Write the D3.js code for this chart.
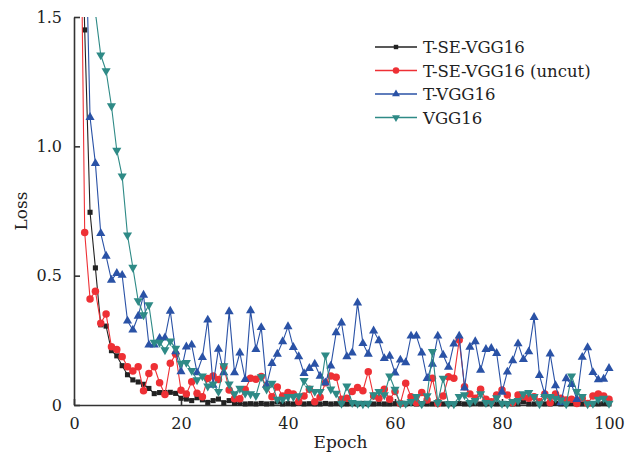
<!DOCTYPE html>
<html>
<head>
<meta charset="utf-8">
<script src="https://cdn.jsdelivr.net/npm/d3@7"></script>
<style>
  body { margin: 0; background: #fff; }
  svg text { font-family: "DejaVu Serif", serif; fill: #222; }
</style>
</head>
<body>
<div id="chart"></div>
<script>
// Data, one value per epoch (1..100)
var epochs = d3.range(1, 101);

var tseVgg = [2.3, 1.45, 0.745, 0.53, 0.31, 0.305, 0.21, 0.19, 0.152, 0.117,
  0.097, 0.089, 0.08, 0.064, 0.044, 0.048, 0.048, 0.049, 0.045, 0.026,
  0.023, 0.017, 0.028, 0.02, 0.01, 0.017, 0.023, 0.009, 0.017, 0.006,
  0.006, 0.004, 0.005, 0.004, 0.006, 0.004, 0.005, 0.012, 0.004, 0.005,
  0.004, 0.006, 0.004, 0.005, 0.004, 0.004, 0.006, 0.004, 0.005, 0.004,
  0.004, 0.005, 0.004, 0.006, 0.004, 0.004, 0.005, 0.004, 0.004, 0.005,
  0.004, 0.004, 0.006, 0.004, 0.005, 0.004, 0.004, 0.012, 0.004, 0.005,
  0.004, 0.006, 0.004, 0.004, 0.005, 0.004, 0.004, 0.005, 0.004, 0.004,
  0.005, 0.004, 0.004, 0.012, 0.004, 0.004, 0.005, 0.004, 0.004, 0.006,
  0.004, 0.004, 0.005, 0.004, 0.004, 0.006, 0.004, 0.004, 0.005, 0.004];

var tseVggUncut = [2.45, 0.667, 0.41, 0.44, 0.316, 0.352, 0.225, 0.215, 0.187, 0.148,
  0.131, 0.148, 0.055, 0.122, 0.148, 0.086, 0.041, 0.161, 0.197, 0.057,
  0.043, 0.09, 0.045, 0.032, 0.102, 0.112, 0.099, 0.148, 0.058, 0.024,
  0.024, 0.06, 0.103, 0.1, 0.11, 0.071, 0.032, 0.07, 0.035, 0.048,
  0.043, 0.013, 0.035, 0.061, 0.013, 0.03, 0.086, 0.112, 0.107, 0.022,
  0.026, 0.052, 0.068, 0.055, 0.129, 0.035, 0.026, 0.061, 0.022, 0.052,
  0.006, 0.084, 0.032, 0.009, 0.048, 0.019, 0.103, 0.006, 0.035, 0.109,
  0.103, 0.251, 0.071, 0.043, 0.026, 0.061, 0.022, 0.013, 0.039, 0.058,
  0.039, 0.009, 0.039, 0.032, 0.026, 0.032, 0.013, 0.043, 0.009, 0.043,
  0.026, 0.019, 0.022, 0.006, 0.026, 0.006, 0.035, 0.043, 0.035, 0.022];

var tVgg = [2.5, 2.0, 1.112, 0.934, 0.664, 0.576, 0.483, 0.509, 0.502, 0.325,
  0.29, 0.344, 0.425, 0.232, 0.232, 0.258, 0.26, 0.363, 0.206, 0.129,
  0.225, 0.232, 0.125, 0.184, 0.329, 0.077, 0.216, 0.125, 0.361, 0.125,
  0.202, 0.099, 0.365, 0.215, 0.3, 0.077, 0.161, 0.197, 0.245, 0.303,
  0.223, 0.187, 0.122, 0.142, 0.158, 0.112, 0.086, 0.151, 0.28, 0.318,
  0.187, 0.202, 0.395, 0.238, 0.197, 0.287, 0.249, 0.18, 0.189, 0.124,
  0.174, 0.164, 0.267, 0.267, 0.202, 0.103, 0.158, 0.267, 0.193, 0.146,
  0.236, 0.267, 0.066, 0.224, 0.245, 0.135, 0.215, 0.219, 0.2, 0.05,
  0.128, 0.172, 0.237, 0.176, 0.206, 0.339, 0.115, 0.041, 0.198, 0.075,
  0.009, 0.102, 0.08, 0.022, 0.185, 0.222, 0.126, 0.098, 0.1, 0.142];

var vgg = [2.4, 2.1, 1.8, 1.518, 1.353, 1.292, 1.156, 0.984, 0.885, 0.657,
  0.532, 0.403, 0.348, 0.387, 0.242, 0.242, 0.213, 0.247, 0.219, 0.161,
  0.164, 0.133, 0.097, 0.112, 0.073, 0.081, 0.052, 0.151, 0.081, 0.043,
  0.064, 0.045, 0.043, 0.036, 0.109, 0.061, 0.084, 0.022, 0.022, 0.032,
  0.032, 0.035, 0.094, 0.064, 0.052, 0.052, 0.193, 0.061, 0.045, 0.006,
  0.073, 0.009, 0.006, 0.004, 0.006, 0.039, 0.052, 0.039, 0.112, 0.06,
  0.006, 0.006, 0.013, 0.032, 0.004, 0.035, 0.206, 0.009, 0.103, 0.004,
  0.004, 0.032, 0.039, 0.009, 0.017, 0.043, 0.009, 0.006, 0.028, 0.006,
  0.004, 0.013, 0.017, 0.043, 0.048, 0.032, 0.004, 0.032, 0.032, 0.026,
  0.019, 0.004, 0.112, 0.052, 0.032, 0.004, 0.006, 0.022, 0.026, 0.006];

var seriesNames = ["T-SE-VGG16", "T-SE-VGG16 (uncut)", "T-VGG16", "VGG16"];
var xTicks = [0, 20, 40, 60, 80, 100];
var yTicks = [0, 0.5, 1.0, 1.5];

var series = [
  { name: seriesNames[0], values: tseVgg,      color: "#222222", symbol: d3.symbolSquare,   size: 26, rot: 0 },
  { name: seriesNames[1], values: tseVggUncut, color: "#ee3035", symbol: d3.symbolCircle,   size: 44, rot: 0 },
  { name: seriesNames[2], values: tVgg,        color: "#2a52a6", symbol: d3.symbolTriangle, size: 36, rot: 0 },
  { name: seriesNames[3], values: vgg,         color: "#2e8a86", symbol: d3.symbolTriangle, size: 36, rot: 180 }
];

var margin = {top: 17, right: 30, bottom: 49, left: 74},
    width = 639 - margin.left - margin.right,   // 535
    height = 454 - margin.top - margin.bottom;  // 388

var svg = d3.select("#chart").append("svg")
    .attr("width", 639)
    .attr("height", 454)
  .append("g")
    .attr("transform", "translate(" + margin.left + "," + margin.top + ")");

var x = d3.scaleLinear().domain([0, 100]).range([0, width]);
var y = d3.scaleLinear().domain([0, 1.5]).range([height, 0]);

// clip only at the top so the last markers stay whole
svg.append("clipPath").attr("id", "plotclip")
  .append("rect")
    .attr("x", -10).attr("y", 0)
    .attr("width", width + 20).attr("height", height + 10);

// axes
svg.append("g")
    .attr("class", "x axis")
    .attr("transform", "translate(0," + height + ")")
    .call(d3.axisBottom(x).tickValues(xTicks).tickSizeInner(-6).tickSizeOuter(0).tickPadding(13));

svg.append("g")
    .attr("class", "y axis")
    .call(d3.axisLeft(y).tickValues(yTicks).tickSizeInner(-6).tickSizeOuter(0).tickPadding(12)
      .tickFormat(function(d) { return d === 0 ? "0" : d.toFixed(1); }));

svg.selectAll(".axis path, .axis line").attr("stroke", "#333").attr("stroke-width", 1.6);
svg.selectAll(".axis text").attr("font-size", 16).attr("font-family", "DejaVu Serif, serif").attr("fill", "#222");

// axis titles
svg.append("text")
    .attr("x", width / 2 - 1)
    .attr("y", height + 43)
    .attr("text-anchor", "middle")
    .attr("font-size", 17)
    .text("Epoch");

svg.append("text")
    .attr("transform", "translate(" + (-47) + "," + (height / 2) + ") rotate(-90)")
    .attr("text-anchor", "middle")
    .attr("font-size", 17)
    .text("Loss");

// series
var line = d3.line()
    .x(function(d, i) { return x(epochs[i]); })
    .y(function(d) { return y(d); });

var plot = svg.append("g").attr("clip-path", "url(#plotclip)");

series.forEach(function(s) {
  var g = plot.append("g");
  g.append("path")
      .datum(s.values)
      .attr("fill", "none")
      .attr("stroke", s.color)
      .attr("stroke-width", 1.1)
      .attr("d", line);

  var sym = d3.symbol().type(s.symbol).size(s.size);
  g.selectAll(".pt")
      .data(s.values)
    .enter().append("path")
      .attr("class", "pt")
      .attr("fill", s.color)
      .attr("d", sym)
      .attr("transform", function(d, i) {
        return "translate(" + x(epochs[i]) + "," + y(d) + ") rotate(" + s.rot + ")";
      });
});

// legend
var legend = svg.append("g").attr("transform", "translate(" + (375 - margin.left) + "," + (47 - margin.top) + ")");
series.forEach(function(s, i) {
  var row = legend.append("g").attr("transform", "translate(0," + (i * 23.5) + ")");
  row.append("line")
      .attr("x1", 0).attr("x2", 42)
      .attr("y1", 0).attr("y2", 0)
      .attr("stroke", s.color)
      .attr("stroke-width", 1.4);
  row.append("path")
      .attr("fill", s.color)
      .attr("d", d3.symbol().type(s.symbol).size(s.size * 0.75))
      .attr("transform", "translate(21,0) rotate(" + s.rot + ")");
  row.append("text")
      .attr("x", 48)
      .attr("y", 6)
      .attr("font-size", 16.5)
      .text(s.name);
});
</script>
</body>
</html>
